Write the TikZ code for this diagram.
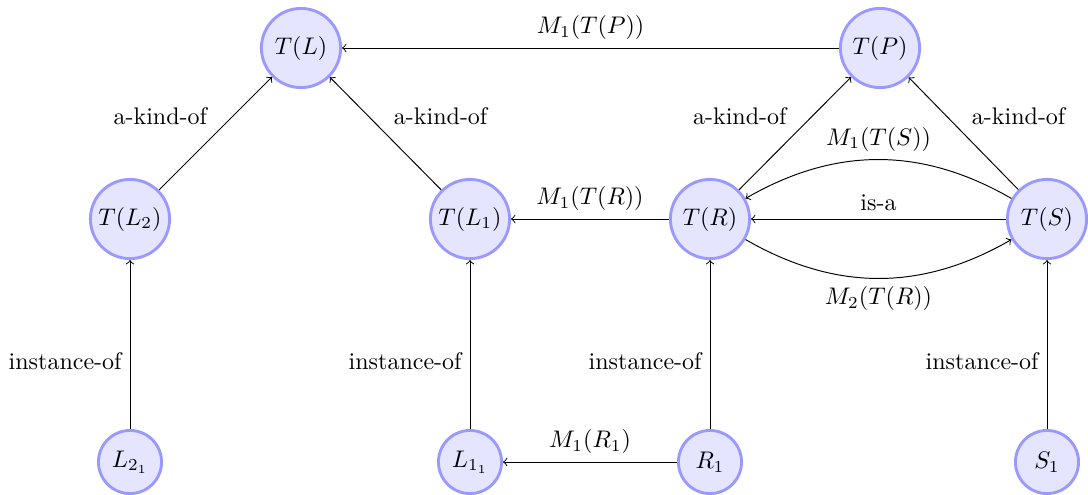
\documentclass[tikz,border=0pt]{standalone}
\usetikzlibrary{arrows}
\begin{document}
\begin{tikzpicture}[x=0.41667pt,y=-0.41667pt,
  bignode/.style={circle,fill=blue!10,draw=blue!40,very thick,minimum size=33pt,inner sep=1pt},
  leafnode/.style={circle,fill=blue!10,draw=blue!40,very thick,minimum size=26.3pt,inner sep=1pt},
  rel/.style={->,thin}]
\useasboundingbox (0,0) rectangle (1088,494);
\node[bignode] (TL) at (301,48) {$T(L)$};
\node[bignode] (TP) at (880,48) {$T(P)$};
\node[bignode] (TL2) at (130,219) {$T(L_2)$};
\node[bignode] (TL1) at (470,219) {$T(L_1)$};
\node[bignode] (TR) at (710,219) {$T(R)$};
\node[bignode] (TS) at (1047,219) {$T(S)$};
\node[leafnode] (L21) at (130,462) {$L_{2_1}$};
\node[leafnode] (L11) at (470,462) {$L_{1_1}$};
\node[leafnode] (R1) at (710,462) {$R_1$};
\node[leafnode] (S1) at (1047,462) {$S_1$};

\draw[rel] (TP) -- node[above] {$M_1(T(P))$} (TL);
\draw[rel] (TL2) -- node[above left] {a-kind-of} (TL);
\draw[rel] (TL1) -- node[above right] {a-kind-of} (TL);
\draw[rel] (TR) -- node[above left] {a-kind-of} (TP);
\draw[rel] (TS) -- node[above right] {a-kind-of} (TP);
\draw[rel] (TR) -- node[above] {$M_1(T(R))$} (TL1);
\draw[rel] (TS) to[bend right=30] node[above] {$M_1(T(S))$} (TR);
\draw[rel] (TS) -- node[above] {is-a} (TR);
\draw[rel] (TR) to[bend right=30] node[below] {$M_2(T(R))$} (TS);
\draw[rel] (L21) -- node[pos=0.4,left] {instance-of} (TL2);
\draw[rel] (L11) -- node[pos=0.4,left] {instance-of} (TL1);
\draw[rel] (R1) -- node[pos=0.4,left] {instance-of} (TR);
\draw[rel] (S1) -- node[pos=0.4,left] {instance-of} (TS);
\draw[rel] (R1) -- node[above] {$M_1(R_1)$} (L11);
\end{tikzpicture}
\end{document}
